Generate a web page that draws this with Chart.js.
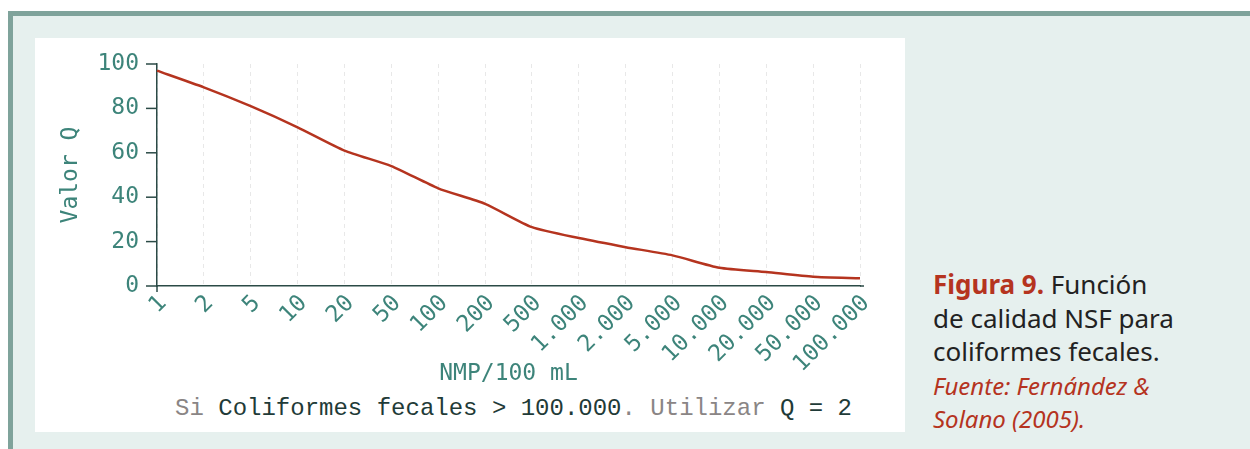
<!DOCTYPE html>
<html><head><meta charset="utf-8">
<script src="https://cdn.jsdelivr.net/npm/chart.js@4"></script>
<style>
html,body{margin:0;padding:0;background:#fff;width:1250px;height:449px;overflow:hidden;}
#frame{position:absolute;left:8px;top:11px;width:1300px;height:500px;border-top:5px solid #7fa39b;border-left:5px solid #7fa39b;background:#e6f0ee;}
#panel{position:absolute;left:35px;top:38px;width:870px;height:394px;background:#fff;}
#cv{position:absolute;left:0;top:0;}
#note{position:absolute;left:0;width:870px;top:357px;text-align:center;font-family:"Liberation Mono",monospace;font-size:24px;color:#1f3b38;white-space:pre;padding-left:87px;box-sizing:border-box;}
#note .g{color:#8a8585;}
#cap{position:absolute;left:933px;top:268px;font-family:"Noto Sans",sans-serif;font-size:26px;line-height:33.5px;color:#222;width:320px;white-space:nowrap;}
#cap b{color:#b5341f;}
#cap i{color:#b5341f;font-size:24px;}
</style></head>
<body>
<div id="frame"></div>
<div id="panel"><canvas id="cv" width="870" height="355"></canvas>
<div id="note"><span class="g">Si</span> Coliformes fecales &gt; 100.000<span class="g">. Utilizar</span> Q = 2</div></div>
<div id="cap"><b>Figura 9.</b> Función<br>de calidad NSF para<br>coliformes fecales.<br><i>Fuente: Fernández &amp;<br>Solano (2005).</i></div>
<script>
const categories = ["1","2","5","10","20","50","100","200","500","1.000","2.000","5.000","10.000","20.000","50.000","100.000"];
const qValues = [97, 89.5, 81, 71.5, 61, 54, 44, 37, 26.5, 21.6, 17.5, 13.8, 8.2, 6.3, 4.2, 3.5];
const yTicks = [0, 20, 40, 60, 80, 100];
const xTitle = "NMP/100 mL";
const yTitle = "Valor Q";

const teal = "#3d847a";
const axisDark = "#2b4a46";
const monoFont = {family: "'DejaVu Sans Mono', monospace", size: 23};

new Chart(document.getElementById('cv'), {
  type: 'line',
  data: {
    labels: categories,
    datasets: [{
      data: qValues,
      borderColor: '#b5341f',
      borderWidth: 2.5,
      pointRadius: 0,
      tension: 0.2,
      fill: false
    }]
  },
  options: {
    responsive: false,
    animation: false,
    layout: {padding: {top: 26, right: 45, left: 22, bottom: 0}},
    plugins: {legend: {display: false}, tooltip: {enabled: false}},
    scales: {
      x: {
        offset: false,
        grid: {display: true, color: '#e8e8e8', lineWidth: 1, drawTicks: false, tickLength: 6},
        border: {display: true, color: axisDark, width: 1.5, dash: [4, 4]},
        ticks: {color: teal, font: monoFont, maxRotation: 45, minRotation: 45, padding: 4, labelOffset: 6, autoSkip: false},
        title: {display: true, text: xTitle, color: teal, font: monoFont, padding: {top: 4, bottom: 5}},
        afterFit: s => { s.height = 107; }
      },
      y: {
        min: 0, max: 100,
        afterBuildTicks: s => { s.ticks = yTicks.map(v => ({value: v})); },
        grid: {display: false, drawTicks: true, tickLength: 10},
        border: {display: true, color: axisDark, width: 1.5},
        ticks: {color: teal, font: monoFont, padding: 8},
        title: {display: true, text: yTitle, color: teal, font: monoFont, padding: {top: 0, bottom: 0}},
        afterFit: s => { s.width = 100; }
      }
    }
  },
  plugins: [{
    id: 'axisTicks',
    afterDraw(chart) {
      const {ctx, chartArea, scales: {y}} = chart;
      ctx.save();
      ctx.strokeStyle = axisDark; ctx.lineWidth = 1.5;
      yTicks.forEach(v => {
        const py = y.getPixelForValue(v);
        ctx.beginPath(); ctx.moveTo(y.right - 11, py); ctx.lineTo(y.right, py); ctx.stroke();
      });
      ctx.beginPath(); ctx.moveTo(chartArea.left, chartArea.bottom); ctx.lineTo(chartArea.left, chartArea.bottom + 6); ctx.stroke();
      ctx.beginPath(); ctx.moveTo(chartArea.right, chartArea.bottom); ctx.lineTo(chartArea.right + 4, chartArea.bottom); ctx.stroke();
      ctx.restore();
    }
  }]
});
</script>
</body></html>
